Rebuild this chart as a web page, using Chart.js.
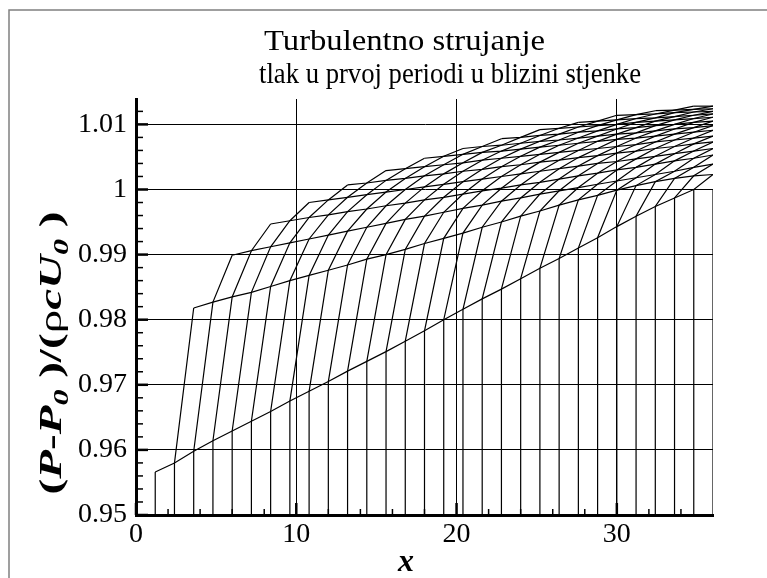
<!DOCTYPE html>
<html lang="en">
<head>
<meta charset="UTF-8">
<title>Turbulentno strujanje</title>
<script src="https://cdn.jsdelivr.net/npm/chart.js"></script>
<style>
    body { margin: 0; background: #fff; }
    #wrap { width: 767px; height: 578px; }
</style>
</head>
<body>
<div id="wrap"><canvas id="chart" width="767" height="578"></canvas></div>
<script>
    // mesh node positions along x (same for every row, rows start further right)
    const xNodes = [1.2, 2.4, 3.6, 4.8, 6.0, 7.2, 8.4, 9.6, 10.8, 12.0, 13.2, 14.4, 15.6, 16.8, 18.0,
                    19.2, 20.4, 21.6, 22.8, 24.0, 25.2, 26.4, 27.6, 28.8, 30.0, 31.2, 32.4, 33.6, 34.8, 36.0];
    const rowStart = [0, 2, 4, 6, 8, 10, 12, 14, 16, 18, 20, 22, 24, 26, 28];
    const pBase = 0.95;

    const rowA = [0.9566, 0.9580, 0.9598, 0.9614, 0.9629, 0.9644, 0.9659, 0.9675, 0.9690, 0.9705, 0.9721, 0.9736, 0.9751, 0.9767, 0.9783,
                  0.9800, 0.9816, 0.9832, 0.9847, 0.9863, 0.9879, 0.9894, 0.9910, 0.9926, 0.9943, 0.9959, 0.9974, 0.9987, 1.0000, 1.0000];
    const rowB = [0.9818, 0.9827, 0.9835, 0.9842, 0.9851, 0.9860, 0.9868, 0.9876, 0.9884, 0.9893, 0.9900, 0.9908, 0.9917, 0.9925,
                  0.9933, 0.9942, 0.9950, 0.9959, 0.9967, 0.9976, 0.9984, 0.9991, 0.9999, 1.0006, 1.0012, 1.0017, 1.0021, 1.0023];
    const rowC = [0.9899, 0.9906, 0.9912, 0.9918, 0.9924, 0.9930, 0.9936, 0.9942, 0.9948, 0.9954, 0.9959, 0.9965, 0.9971,
                  0.9976, 0.9982, 0.9987, 0.9993, 0.9998, 1.0003, 1.0008, 1.0013, 1.0018, 1.0023, 1.0028, 1.0034, 1.0039];
    const rowD = [0.9947, 0.9952, 0.9957, 0.9961, 0.9966, 0.9970, 0.9975, 0.9979, 0.9984, 0.9988, 0.9993, 0.9998,
                  1.0002, 1.0007, 1.0011, 1.0016, 1.0021, 1.0025, 1.0030, 1.0034, 1.0039, 1.0044, 1.0048, 1.0053];
    const rowE = [0.9980, 0.9984, 0.9988, 0.9992, 0.9996, 1.0000, 1.0004, 1.0008, 1.0012, 1.0016, 1.0020,
                  1.0024, 1.0028, 1.0032, 1.0036, 1.0040, 1.0043, 1.0047, 1.0051, 1.0055, 1.0059, 1.0063];
    const rowF = [1.0007, 1.0010, 1.0014, 1.0017, 1.0021, 1.0024, 1.0028, 1.0031, 1.0035, 1.0038,
                  1.0042, 1.0045, 1.0049, 1.0052, 1.0056, 1.0059, 1.0063, 1.0066, 1.0070, 1.0073];
    const rowG = [1.0029, 1.0032, 1.0035, 1.0038, 1.0041, 1.0045, 1.0048, 1.0051, 1.0054,
                  1.0057, 1.0060, 1.0063, 1.0066, 1.0069, 1.0073, 1.0076, 1.0079, 1.0082];
    const rowH = [1.0048, 1.0051, 1.0054, 1.0057, 1.0059, 1.0062, 1.0065, 1.0068,
                  1.0071, 1.0074, 1.0077, 1.0079, 1.0082, 1.0085, 1.0088, 1.0091];
    const rowI = [1.0063, 1.0066, 1.0068, 1.0071, 1.0074, 1.0076, 1.0079, 1.0082, 1.0085, 1.0087, 1.0090, 1.0093, 1.0095, 1.0098];
    const rowJ = [1.0078, 1.0080, 1.0083, 1.0085, 1.0088, 1.0090, 1.0093, 1.0095, 1.0098, 1.0100, 1.0103, 1.0105];
    const rowK = [1.0092, 1.0094, 1.0096, 1.0098, 1.0100, 1.0103, 1.0105, 1.0107, 1.0109, 1.0111];
    const rowL = [1.0103, 1.0105, 1.0107, 1.0109, 1.0110, 1.0112, 1.0114, 1.0116];
    const rowM = [1.0114, 1.0115, 1.0116, 1.0118, 1.0119, 1.0120];
    const rowN = [1.0121, 1.0122, 1.0123, 1.0124];
    const rowO = [1.0128, 1.0128];
    const rows = [rowA, rowB, rowC, rowD, rowE, rowF, rowG, rowH, rowI, rowJ, rowK, rowL, rowM, rowN, rowO];

    const xTicks = [0, 10, 20, 30];
    const xMinor = [2, 4, 6, 8, 12, 14, 16, 18, 22, 24, 26, 28, 32, 34];
    const yTicks = [0.95, 0.96, 0.97, 0.98, 0.99, 1.0, 1.01];
    const yMinor = [0.952, 0.954, 0.956, 0.958, 0.962, 0.964, 0.966, 0.968, 0.972, 0.974, 0.976, 0.978,
                    0.982, 0.984, 0.986, 0.988, 0.992, 0.994, 0.996, 0.998, 1.002, 1.004, 1.006, 1.008, 1.012];

    const titleLines = ["Turbulentno strujanje", "tlak u prvoj periodi u blizini stjenke"];
    const serif = "'Liberation Serif', 'Times New Roman', serif";

    // rows (constant j) and the columns (constant i) that tie them together
    const meshLines = [];
    rows.forEach((row, j) => {
        meshLines.push(row.map((p, i) => ({ x: xNodes[rowStart[j] + i], y: p })));
    });
    for (let k = 0; k < xNodes.length; k++) {
        const pts = [{ x: xNodes[k], y: pBase }];
        for (let j = 0; j < rows.length && j <= k && k + j < xNodes.length; j++) {
            pts.push({ x: xNodes[k + j], y: rows[j][k - j] });
        }
        meshLines.push(pts);
    }

    // draw a text squeezed/stretched to a given width (the original font is wider on narrow glyphs)
    function fitText(ctx, text, font, left, baseline, width) {
        ctx.save();
        ctx.font = font;
        ctx.textAlign = "left";
        const w = ctx.measureText(text).width;
        ctx.translate(left, baseline);
        ctx.scale(width / w, 1);
        ctx.fillText(text, 0, 0);
        ctx.restore();
    }

    const decor = {
        id: "decor",
        afterDraw(chart) {
            const ctx = chart.ctx;
            const xs = chart.scales.x, ys = chart.scales.y;
            const area = chart.chartArea;
            ctx.save();

            // frame
            ctx.strokeStyle = "#808080";
            ctx.lineWidth = 1.5;
            ctx.beginPath();
            ctx.moveTo(9, 578);
            ctx.lineTo(9, 10);
            ctx.lineTo(767, 10);
            ctx.stroke();

            // inward ticks
            ctx.strokeStyle = "#000";
            const tick = (x1, y1, x2, y2, w) => {
                ctx.lineWidth = w;
                ctx.beginPath();
                ctx.moveTo(x1, y1);
                ctx.lineTo(x2, y2);
                ctx.stroke();
            };
            xTicks.forEach(v => { const p = xs.getPixelForValue(v); tick(p, area.bottom, p, area.bottom - 12, 2.5); });
            xMinor.forEach(v => { const p = xs.getPixelForValue(v); tick(p, area.bottom, p, area.bottom - 6, 1.5); });
            yTicks.forEach(v => { const p = ys.getPixelForValue(v); tick(area.left, p, area.left + 12, p, 2.5); });
            yMinor.forEach(v => { const p = ys.getPixelForValue(v); tick(area.left, p, area.left + 7, p, 1.5); });

            // title, two left-aligned lines
            ctx.fillStyle = "#000";
            ctx.textBaseline = "alphabetic";
            fitText(ctx, titleLines[0], "30px " + serif, 264, 50, 281);
            fitText(ctx, titleLines[1], "30px " + serif, 259, 83, 382);

            // x axis title
            ctx.textAlign = "center";
            ctx.font = "bold italic 32px " + serif;
            ctx.fillText("x", 406, 571);

            // y axis title, rotated and stretched along its length
            const big = "31px " + serif, small = "21px " + serif;
            const parts = [
                ["(", "bold " + big, 0], ["P", "bold italic " + big, 0], ["-", "bold " + big, 0],
                ["P", "bold italic " + big, 0], ["0", "bold italic " + small, 7], [" ", big, 0],
                [")", "bold " + big, 0], ["/", "bold " + big, 0], ["(", "bold " + big, 0],
                ["\u03c1", big, 0], ["c", "bold italic " + big, 0], ["U", "bold italic " + big, 0],
                ["0", "bold italic " + small, 7], [" ", big, 0], [")", "bold " + big, 0]
            ];
            let total = 0;
            parts.forEach(p => { ctx.font = p[1]; total += ctx.measureText(p[0]).width; });
            const stretch = 283 / total;
            ctx.translate(61, 353);
            ctx.rotate(-Math.PI / 2);
            ctx.scale(stretch, 1);
            ctx.textAlign = "left";
            let cx = -total / 2;
            parts.forEach(p => {
                ctx.font = p[1];
                ctx.fillText(p[0], cx, p[2]);
                cx += ctx.measureText(p[0]).width;
            });
            ctx.restore();
        }
    };

    new Chart(document.getElementById("chart").getContext("2d"), {
        type: "scatter",
        data: {
            datasets: meshLines.map(pts => ({
                data: pts,
                showLine: true,
                borderColor: "#000",
                borderWidth: 1.2,
                pointRadius: 0,
                fill: false
            }))
        },
        options: {
            responsive: false,
            animation: false,
            events: [],
            layout: { padding: { left: 10, top: 99, right: 54, bottom: 0 } },
            plugins: { legend: { display: false }, tooltip: { enabled: false } },
            scales: {
                x: {
                    type: "linear",
                    min: 0,
                    max: 36,
                    afterFit: s => { s.height = 63; },
                    afterBuildTicks: s => { s.ticks = xTicks.map(v => ({ value: v })); },
                    grid: { color: "#000", lineWidth: 1, drawTicks: false },
                    border: { color: "#000", width: 3 },
                    ticks: { padding: 3, color: "#000", maxRotation: 0, font: { family: serif, size: 28 } }
                },
                y: {
                    type: "linear",
                    min: 0.95,
                    max: 1.0139,
                    afterFit: s => { s.width = 126; },
                    afterBuildTicks: s => { s.ticks = yTicks.map(v => ({ value: v })); },
                    grid: { color: "#000", lineWidth: 1, drawTicks: false },
                    border: { color: "#000", width: 3 },
                    ticks: {
                        padding: 9,
                        color: "#000",
                        font: { family: serif, size: 28 },
                        callback: v => String(+v.toFixed(2))
                    }
                }
            }
        },
        plugins: [decor]
    });
</script>
</body>
</html>
